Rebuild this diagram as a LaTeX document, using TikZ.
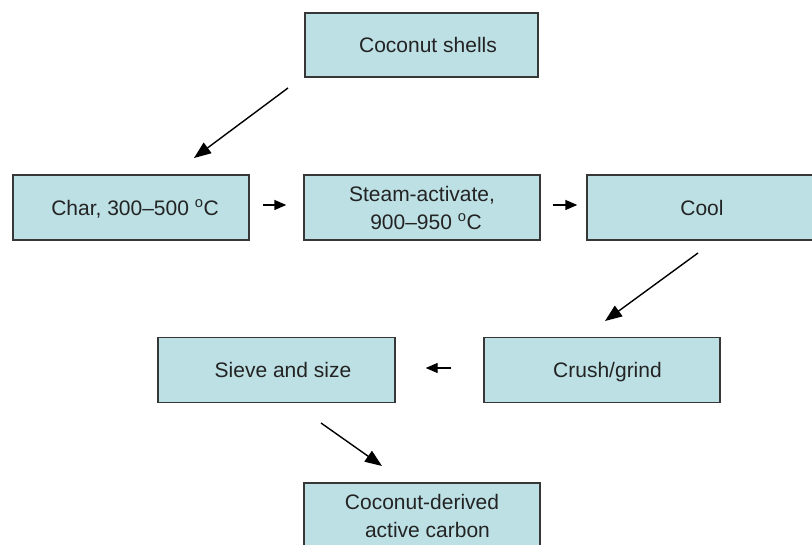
\documentclass[tikz,border=0pt]{standalone}
\usepackage{fontspec}
\setmainfont{Liberation Sans}
\usetikzlibrary{arrows.meta}
\definecolor{boxfill}{RGB}{188,224,228}
\definecolor{boxline}{RGB}{55,55,55}
\definecolor{txt}{RGB}{35,35,35}
\tikzset{
  stepbox/.style={draw=boxline, line width=1.4pt, fill=boxfill, minimum width=236pt,
    minimum height=65pt, inner sep=0pt, text=txt, align=center,
    font=\fontsize{21}{28}\selectfont},
  onebox/.style={stepbox, text height=16pt, text depth=0pt},
  harr/.style={line width=1.4pt, -{Triangle[length=12pt,width=10pt]}},
  darr/.style={line width=1.4pt, -{Triangle[length=17pt,width=13pt]}}
}
\begin{document}
\begin{tikzpicture}[x=1pt,y=-1pt]
\useasboundingbox (0,0) rectangle (812,545);
\node[onebox, minimum width=233pt, minimum height=64pt] (shells) at (421.5,45) {\hspace*{13pt}Coconut shells};
\node[onebox] (char) at (131,207.5) {\hspace*{8pt}Char, 300--500 \textsuperscript{o}C};
\node[stepbox] (steam) at (422,207.5) {Steam-activate,\\\hspace*{8pt}900--950 \textsuperscript{o}C};
\node[onebox, minimum width=226pt] (cool) at (700,207.5) {\hspace*{4pt}Cool};
\node[onebox] (crush) at (602,370) {\hspace*{11pt}Crush/grind};
\node[onebox, minimum width=237pt] (sieve) at (276.5,370) {\hspace*{13pt}Sieve and size};
\node[stepbox] (final) at (422,515.5) {Coconut-derived\\\hspace*{11pt}active carbon};
\coordinate (a1s) at (288,88);
\coordinate (a1e) at (194,158);
\coordinate (a2s) at (698,253);
\coordinate (a2e) at (605,321);
\coordinate (a3s) at (321,423);
\coordinate (a3e) at (382,466);
\draw[darr] (a1s) -- (a1e);
\draw[harr, shorten <=13pt, shorten >=17pt] ([yshift=2.5pt]char.east) -- ([yshift=2.5pt]steam.west);
\draw[harr, shorten <=12pt, shorten >=9pt] ([yshift=2.5pt]steam.east) -- ([yshift=2.5pt]cool.west);
\draw[darr] (a2s) -- (a2e);
\draw[harr, shorten <=32pt, shorten >=30pt] ([yshift=2pt]crush.west) -- ([yshift=2pt]sieve.east);
\draw[darr] (a3s) -- (a3e);
\end{tikzpicture}
\end{document}
